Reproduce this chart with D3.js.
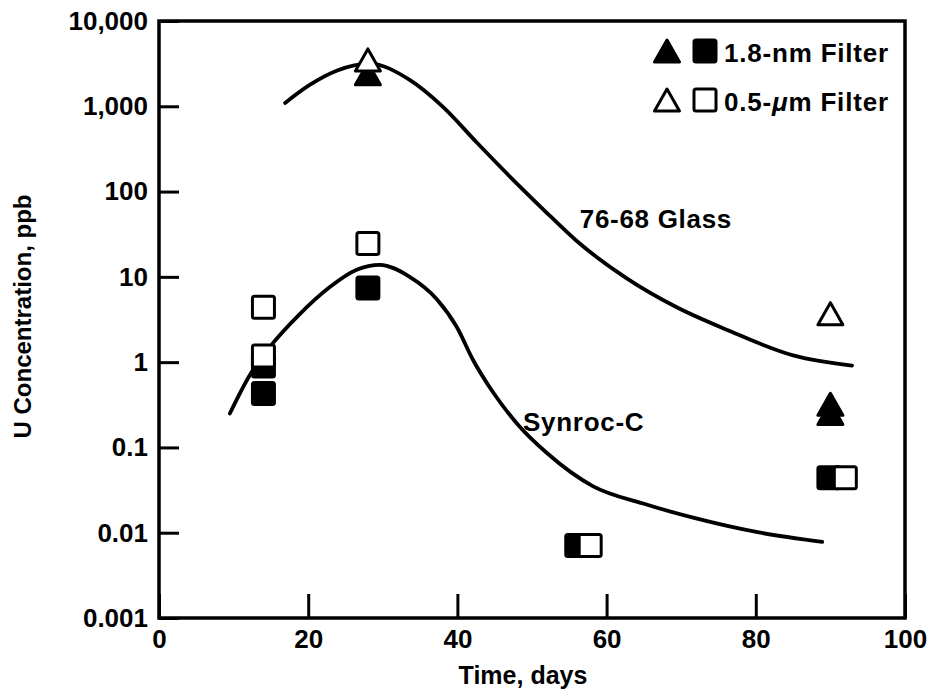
<!DOCTYPE html>
<html>
<head>
<meta charset="utf-8">
<script src="https://cdn.jsdelivr.net/npm/d3@7"></script>
<style>
  html, body { margin: 0; padding: 0; background: #fff; }
  svg { display: block; }
  text { font-family: "Liberation Sans", Arial, Helvetica, sans-serif; font-weight: bold; fill: #000; }
</style>
</head>
<body>
<svg id="chart" width="930" height="691"></svg>
<script>
// ---- Data ----
const xTickValues = [0, 20, 40, 60, 80, 100];
const yTickValues = [0.001, 0.01, 0.1, 1, 10, 100, 1000, 10000];
const yTickLabels = ["0.001", "0.01", "0.1", "1", "10", "100", "1,000", "10,000"];

// 76-68 Glass fitted curve
const glassCurveDays = [16.9, 20.2, 23.9, 28.2, 33.6, 38.1, 42.6, 47.1, 51.5, 56.0, 62.7, 69.4, 76.1, 85.0, 92.9];
const glassCurveU    = [1096, 1780, 2630, 3160, 2040, 977, 376, 148, 62, 26.3, 9.6, 4.4, 2.4, 1.2, 0.91];

// Synroc-C fitted curve
const synrocCurveDays = [9.5, 12.2, 15.3, 18.5, 22.9, 26.5, 29.6, 33.6, 37.3, 39.9, 42.1, 44.8, 48.0, 52.0, 58.2, 64.9, 71.6, 80.6, 88.9];
const synrocCurveU    = [0.25, 0.71, 1.68, 3.4, 7.6, 12.1, 13.8, 10.0, 5.4, 2.6, 1.06, 0.44, 0.19, 0.086, 0.035, 0.022, 0.015, 0.010, 0.0078];

// Glass measurements (triangles)
const glassFineDays = [28, 90, 90];          // 1.8-nm filter (filled)
const glassFineU    = [2400, 0.32, 0.25];
const glassCoarseDays = [28, 90];            // 0.5-um filter (open)
const glassCoarseU    = [3500, 3.7];

// Synroc measurements (squares)
const synrocFineDays = [14, 14, 28, 56, 89.8];     // 1.8-nm filter (filled)
const synrocFineU    = [0.9, 0.43, 7.4, 0.0071, 0.044];
const synrocCoarseDays = [14, 14, 28, 57.8, 92];   // 0.5-um filter (open)
const synrocCoarseU    = [4.4, 1.18, 24.6, 0.0071, 0.044];

// Annotations
const curveLabels = [
  { text: "76-68 Glass", day: 56.4, u: 37 },
  { text: "Synroc-C", day: 48.8, u: 0.155 }
];

// ---- Layout ----
const plotLeft = 159, plotRight = 905, plotTop = 21, plotBottom = 618;
const svg = d3.select("#chart");
const x = d3.scaleLinear().domain([0, 100]).range([plotLeft, plotRight]);
const y = d3.scaleLog().domain([0.001, 10000]).range([plotBottom, plotTop]);

const zip = (a, b) => a.map((d, i) => [d, b[i]]);

// Axes
const yAxis = d3.axisLeft(y)
  .tickValues(yTickValues)
  .tickFormat((d, i) => yTickLabels[i])
  .tickSizeInner(-20).tickSizeOuter(0).tickPadding(11);
const gy = svg.append("g").attr("transform", `translate(${plotLeft},0)`).call(yAxis);

const xAxis = d3.axisBottom(x)
  .tickValues(xTickValues)
  .tickFormat(d3.format("d"))
  .tickSizeInner(-24).tickSizeOuter(0).tickPadding(12);
const gx = svg.append("g").attr("transform", `translate(0,${plotBottom})`).call(xAxis);

[gx, gy].forEach(g => {
  g.select(".domain").remove();
  g.selectAll(".tick line").attr("stroke", "#000").attr("stroke-width", 3);
  g.selectAll(".tick text").style("font-size", "26px").style("font-family", '"Liberation Sans", Arial, sans-serif').style("font-weight", "bold").attr("fill", "#000");
});

// Frame
svg.append("rect")
  .attr("x", plotLeft).attr("y", plotTop)
  .attr("width", plotRight - plotLeft).attr("height", plotBottom - plotTop)
  .attr("fill", "none").attr("stroke", "#000").attr("stroke-width", 3.5);

// Axis titles
svg.append("text")
  .attr("x", 523).attr("y", 684)
  .attr("text-anchor", "middle")
  .style("font-size", "25px")
  .text("Time, days");

svg.append("text")
  .attr("transform", `translate(31,${(plotTop + plotBottom) / 2 - 3}) rotate(-90)`)
  .attr("text-anchor", "middle")
  .style("font-size", "24px")
  .text("U Concentration, ppb");

// Curves
const line = d3.line()
  .x(d => x(d[0])).y(d => y(d[1]))
  .curve(d3.curveMonotoneX);

svg.append("path").datum(zip(glassCurveDays, glassCurveU))
  .attr("d", line).attr("fill", "none").attr("stroke", "#000")
  .attr("stroke-width", 3.8).attr("stroke-linecap", "round");
svg.append("path").datum(zip(synrocCurveDays, synrocCurveU))
  .attr("d", line).attr("fill", "none").attr("stroke", "#000")
  .attr("stroke-width", 3.8).attr("stroke-linecap", "round");

// Curve labels
svg.selectAll("text.curve-label").data(curveLabels).enter().append("text")
  .attr("class", "curve-label")
  .attr("x", d => x(d.day)).attr("y", d => y(d.u))
  .style("font-size", "26px").style("letter-spacing", "0.7px")
  .text(d => d.text);

// Marker helpers
const TW = 25, TH = 22, SQ = 22;
function triPath(cx, cy) {
  return `M${cx},${cy - TH / 2}L${cx + TW / 2},${cy + TH / 2}L${cx - TW / 2},${cy + TH / 2}Z`;
}
function drawTriangles(days, us, filled) {
  svg.append("g").selectAll("path").data(zip(days, us)).enter().append("path")
    .attr("d", d => triPath(x(d[0]), y(d[1])))
    .attr("fill", filled ? "#000" : "#fff")
    .attr("stroke", "#000").attr("stroke-width", 3).attr("stroke-linejoin", "round");
}
function drawSquares(days, us, filled) {
  svg.append("g").selectAll("rect").data(zip(days, us)).enter().append("rect")
    .attr("x", d => x(d[0]) - SQ / 2).attr("y", d => y(d[1]) - SQ / 2)
    .attr("width", SQ).attr("height", SQ).attr("rx", 2)
    .attr("fill", filled ? "#000" : "#fff")
    .attr("stroke", "#000").attr("stroke-width", 3);
}

drawSquares(synrocFineDays, synrocFineU, true);
drawSquares(synrocCoarseDays, synrocCoarseU, false);
drawTriangles(glassFineDays, glassFineU, true);
drawTriangles(glassCoarseDays, glassCoarseU, false);

// Legend
const legend = svg.append("g");
const legendRows = [
  { filled: true, cy: 51, label: ["1.8-nm Filter"] },
  { filled: false, cy: 100, label: ["0.5-", "μ", "m Filter"] }
];
legendRows.forEach(r => {
  legend.append("path").attr("d", triPath(667, r.cy))
    .attr("fill", r.filled ? "#000" : "#fff").attr("stroke", "#000")
    .attr("stroke-width", 3).attr("stroke-linejoin", "round");
  legend.append("rect").attr("x", 705 - SQ / 2).attr("y", r.cy - SQ / 2)
    .attr("width", SQ).attr("height", SQ).attr("rx", 2)
    .attr("fill", r.filled ? "#000" : "#fff").attr("stroke", "#000").attr("stroke-width", 3);
  const t = legend.append("text").attr("x", 724).attr("y", r.cy + 11)
    .style("font-size", "26px").style("letter-spacing", "0.8px");
  r.label.forEach(part => {
    const ts = t.append("tspan").text(part);
    if (part === "μ") ts.style("font-style", "italic");
  });
});
</script>
</body>
</html>
